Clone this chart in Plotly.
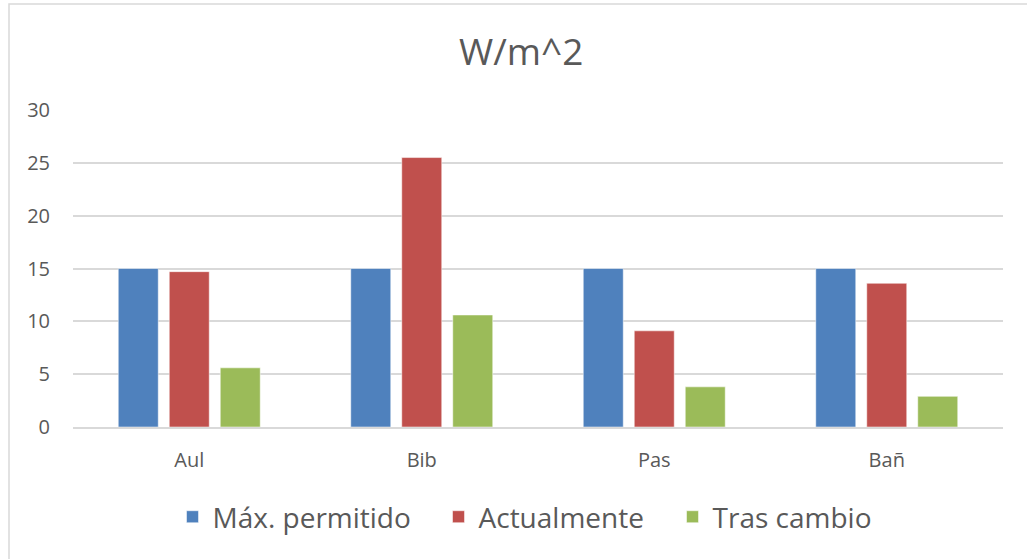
import plotly.graph_objects as go

categories = ["Aul", "Bib", "Pas", "Bañ"]
series_names = ["Máx. permitido", "Actualmente", "Tras cambio"]
max_permitido = [15, 15, 15, 15]
actualmente = [14.7, 25.5, 9.1, 13.6]
tras_cambio = [5.6, 10.6, 3.8, 2.9]
y_ticks = [0, 5, 10, 15, 20, 25, 30]

colors = ["#4f81bd", "#c0504d", "#9bbb59"]
legend_widths = [221, 189, 170]
FONT = "Open Sans"
TXT = "#595959"

fig = go.Figure()
for name, vals, col, lw in zip(series_names, [max_permitido, actualmente, tras_cambio], colors, legend_widths):
    fig.add_trace(go.Bar(
        x=categories, y=vals, name=name, legendwidth=lw,
        marker=dict(color=col, line=dict(color="rgba(255,255,255,0.5)", width=1)),
    ))

fig.update_layout(
    width=1027, height=559,
    margin=dict(l=73, r=24, t=110, b=132),
    paper_bgcolor="white", plot_bgcolor="white",
    barmode="group", bargap=0.342, bargroupgap=0.216,
    title=dict(text="W/m^2", xref="paper", x=0.482, xanchor="center", y=0.907, yanchor="middle",
               font=dict(family=FONT, size=37, color=TXT)),
    font=dict(family=FONT, color=TXT),
    legend=dict(orientation="h", x=0.107, xanchor="left", y=-0.284, yanchor="middle",
                font=dict(family=FONT, size=28, color=TXT), traceorder="normal"),
    showlegend=True,
)
fig.update_yaxes(range=[0, 30], tickvals=y_ticks, showgrid=True, gridcolor="#d9d9d9", gridwidth=1.5,
                 zeroline=False, showline=False, ticks="outside", ticklen=18, tickcolor="rgba(0,0,0,0)",
                 tickfont=dict(family=FONT, size=20, color=TXT))
fig.update_xaxes(showline=True, linecolor="#d9d9d9", linewidth=1.5, showgrid=False,
                 ticks="outside", ticklen=14, tickcolor="rgba(0,0,0,0)",
                 tickfont=dict(family=FONT, size=20, color=TXT))
fig.add_shape(type="rect", xref="paper", yref="paper",
              x0=(9 - 73) / 930, x1=1.2, y0=-0.6, y1=(427 - 4) / 317,
              line=dict(color="#d9d9d9", width=1.5), fillcolor="rgba(0,0,0,0)", layer="below")

fig.write_html("out.html", config={"displayModeBar": False},
               post_script="document.body.style.margin='0';document.body.style.overflow='hidden';")
